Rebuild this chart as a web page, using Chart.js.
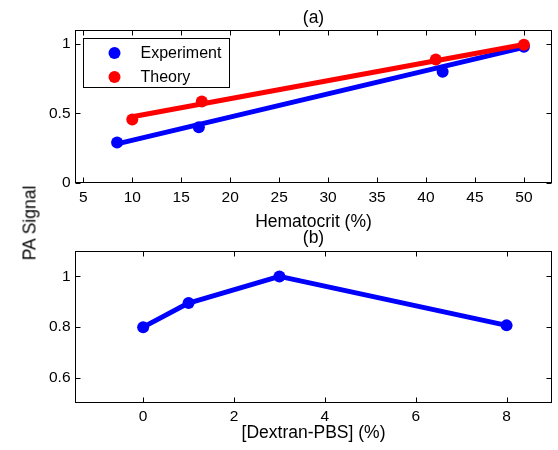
<!DOCTYPE html>
<html><head><meta charset="utf-8">
<script src="https://cdn.jsdelivr.net/npm/chart.js@4"></script>
<style>
html,body{margin:0;padding:0;background:#fff;}
#wrap{position:relative;width:558px;height:450px;overflow:hidden;background:#fff;}
canvas{position:absolute;left:0;}
#c1{top:0;}
#c2{top:225px;}
#ylab{position:absolute;left:30px;top:223px;transform:translate(-50%,-50%) rotate(-90deg);font:17.5px "Liberation Sans",Arial,sans-serif;white-space:nowrap;color:#000;}
</style></head><body>
<div id="wrap">
<canvas id="c1" width="558" height="240"></canvas>
<canvas id="c2" width="558" height="225"></canvas>
<div id="ylab">PA Signal</div>
</div>
<script>
// ---- data ----
const hematocritExperiment = [8.45, 16.8, 41.7, 50];
const signalExperiment     = [0.29, 0.40, 0.80, 0.98];
const hematocritTheory     = [10, 17.1, 41, 50];
const signalTheory         = [0.455, 0.585, 0.887, 0.993];
const fitExperimentX = [8.45, 50];
const fitExperimentY = [0.28, 0.975];
const fitTheoryX = [10, 50];
const fitTheoryY = [0.475, 0.995];
const dextranPercent = [0, 1, 3, 8];
const dextranSignal  = [0.80, 0.895, 1.0, 0.807];
const ticksAX = [5, 10, 15, 20, 25, 30, 35, 40, 45, 50];
const ticksAY = [0, 0.5, 1];
const ticksBX = [0, 2, 4, 6, 8];
const ticksBY = [0.6, 0.8, 1];
const labelsA = ['Experiment', 'Theory'];

const FONT = '"Liberation Sans", Arial, Helvetica, sans-serif';
const BLUE = '#0000ff', RED = '#ff0000';
const pts = (xs, ys) => xs.map((x, i) => ({x: x, y: ys[i]}));

const frameTicks = {
  id: 'frameTicks',
  afterDatasetsDraw(chart) {
    const {ctx, chartArea: a, scales} = chart;
    const L = 5;
    const l = Math.round(a.left) + 0.5, r = Math.round(a.right) - 0.5;
    const t = Math.round(a.top) + 0.5, b = Math.round(a.bottom) - 0.5;
    ctx.save();
    ctx.strokeStyle = '#000';
    ctx.lineWidth = 1;
    ctx.beginPath();
    scales.x.ticks.forEach(tk => {
      const p = Math.round(scales.x.getPixelForValue(tk.value)) + 0.5;
      ctx.moveTo(p, b); ctx.lineTo(p, b - L);
      ctx.moveTo(p, t); ctx.lineTo(p, t + L);
    });
    scales.y.ticks.forEach(tk => {
      const p = Math.round(scales.y.getPixelForValue(tk.value)) + 0.5;
      ctx.moveTo(l, p); ctx.lineTo(l + L, p);
      ctx.moveTo(r, p); ctx.lineTo(r - L, p);
    });
    ctx.stroke();
    ctx.strokeRect(l, t, r - l, b - t);
    ctx.restore();
  }
};

const boxLegend = {
  id: 'boxLegend',
  afterDraw(chart) {
    const items = chart.data.datasets.filter(d => d.legendRow !== undefined)
      .sort((p, q) => p.legendRow - q.legendRow);
    if (!items.length) return;
    const {ctx, chartArea: a} = chart;
    const x0 = Math.round(a.left + 8) + 0.5, y0 = Math.round(a.top + 8) + 0.5;
    const w = 146, h = 49;
    ctx.save();
    ctx.fillStyle = '#fff';
    ctx.fillRect(x0, y0, w, h);
    ctx.strokeStyle = '#000';
    ctx.lineWidth = 1;
    ctx.strokeRect(x0, y0, w, h);
    ctx.font = '16px ' + FONT;
    ctx.textBaseline = 'middle';
    ctx.textAlign = 'left';
    items.forEach((d, i) => {
      const cy = y0 + 14.5 + i * 24;
      ctx.beginPath();
      ctx.fillStyle = d.backgroundColor;
      ctx.arc(x0 + 31, cy, 6, 0, Math.PI * 2);
      ctx.fill();
      ctx.fillStyle = '#000';
      ctx.fillText(d.label, x0 + 57, cy + 1);
    });
    ctx.restore();
  }
};

function scalesFor(o) {
  const tickFont = {family: FONT, size: 15.5};
  const titleFont = {family: FONT, size: 17.5};
  return {
    x: {
      type: 'linear', position: 'bottom', min: o.xmin, max: o.xmax,
      afterBuildTicks: s => { s.ticks = o.xt.map(v => ({value: v})); },
      afterFit: s => { s.height = o.xh; },
      grid: {display: false, drawTicks: false},
      border: {display: false},
      ticks: {font: tickFont, color: '#000', padding: o.xpad, maxRotation: 0, autoSkip: false,
              callback: v => String(v)},
      title: {display: true, text: o.xtitle, font: titleFont, color: '#000',
              padding: {top: 0, bottom: o.xtpad}}
    },
    x2: {
      type: 'linear', position: 'top', min: o.xmin, max: o.xmax,
      afterFit: s => { s.height = o.toph; },
      grid: {display: false, drawTicks: false},
      border: {display: false},
      ticks: {display: false},
      title: {display: true, text: o.toptitle, font: titleFont, color: '#000',
              padding: {top: o.toppad, bottom: 0}}
    },
    y: {
      type: 'linear', position: 'left', min: o.ymin, max: o.ymax,
      afterBuildTicks: s => { s.ticks = o.yt.map(v => ({value: v})); },
      afterFit: s => { s.width = 75; },
      grid: {display: false, drawTicks: false},
      border: {display: false},
      ticks: {font: tickFont, color: '#000', padding: 4.5, callback: v => String(v)}
    }
  };
}

const common = {
  responsive: false,
  animation: false,
  events: [],
  plugins: {legend: {display: false}, tooltip: {enabled: false}, title: {display: false}}
};

new Chart(document.getElementById('c1'), {
  type: 'scatter',
  data: {
    datasets: [
      {label: labelsA[1], legendRow: 1, data: pts(hematocritTheory, signalTheory), order: 0,
       backgroundColor: RED, borderColor: RED, pointRadius: 6, pointBorderWidth: 0, showLine: false},
      {label: 'Theory fit', data: pts(fitTheoryX, fitTheoryY), order: 1,
       borderColor: RED, borderWidth: 5, pointRadius: 0, showLine: true, borderCapStyle: 'round'},
      {label: labelsA[0], legendRow: 0, data: pts(hematocritExperiment, signalExperiment), order: 2,
       backgroundColor: BLUE, borderColor: BLUE, pointRadius: 6, pointBorderWidth: 0, showLine: false},
      {label: 'Experiment fit', data: pts(fitExperimentX, fitExperimentY), order: 3,
       borderColor: BLUE, borderWidth: 5, pointRadius: 0, showLine: true, borderCapStyle: 'round'}
    ]
  },
  options: Object.assign({}, common, {
    layout: {padding: {left: 0, right: 3, top: 0, bottom: 0}},
    scales: scalesFor({xmin: 4.15, xmax: 52.87, xt: ticksAX, ymin: 0, ymax: 1.1, yt: ticksAY,
      xh: 57.3, xpad: 6, xtitle: 'Hematocrit (%)', xtpad: 7.5,
      toph: 30, toptitle: '(a)', toppad: 7.8})
  }),
  plugins: [frameTicks, boxLegend]
});

new Chart(document.getElementById('c2'), {
  type: 'scatter',
  data: {
    datasets: [
      {label: 'Dextran', data: pts(dextranPercent, dextranSignal),
       backgroundColor: BLUE, borderColor: BLUE, borderWidth: 5, pointRadius: 6, pointBorderWidth: 0,
       showLine: true, borderJoinStyle: 'round', borderCapStyle: 'round'}
    ]
  },
  options: Object.assign({}, common, {
    layout: {padding: {left: 0, right: 3, top: 0, bottom: 0}},
    scales: scalesFor({xmin: -1.5, xmax: 9, xt: ticksBX, ymin: 0.5, ymax: 1.1, yt: ticksBY,
      xh: 46.7, xpad: 4, xtitle: '[Dextran-PBS] (%)', xtpad: 6,
      toph: 26, toptitle: '(b)', toppad: 2.5})
  }),
  plugins: [frameTicks]
});
</script>
</body></html>
